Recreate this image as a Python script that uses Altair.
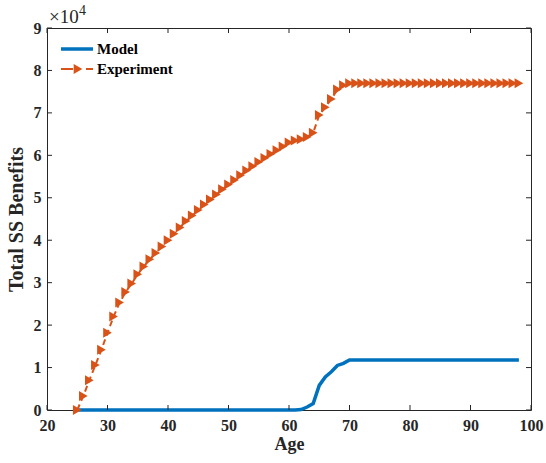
import altair as alt
import pandas as pd

# ---- data ----
ages = list(range(25, 99))
experiment = [
    0, 3300, 7000, 10600, 14200, 18200, 22000, 25300, 27800, 29800,   # 25-34
    32000, 33800, 35500, 37000, 38500, 40000, 41500, 43000, 44500, 45800,  # 35-44
    47100, 48400, 49600, 50800, 52000, 53100, 54200, 55300, 56400, 57400,  # 45-54
    58400, 59400, 60300, 61200, 62100, 63000, 63500, 63800, 64300, 65300,  # 55-64
    69500, 71300, 73300, 75500, 76500, 77000,                              # 65-70
    77000, 77000, 77000, 77000, 77000, 77000, 77000, 77000, 77000, 77000,  # 71-80
    77000, 77000, 77000, 77000, 77000, 77000, 77000, 77000, 77000, 77000,  # 81-90
    77000, 77000, 77000, 77000, 77000, 77000, 77000, 77000,                # 91-98
]
model = [
    0, 0, 0, 0, 0, 0, 0, 0, 0, 0,          # 25-34
    0, 0, 0, 0, 0, 0, 0, 0, 0, 0,          # 35-44
    0, 0, 0, 0, 0, 0, 0, 0, 0, 0,          # 45-54
    0, 0, 0, 0, 0, 0, 0, 100, 700, 1500,   # 55-64
    5800, 7800, 9000, 10500, 11000, 11800, # 65-70
    11800, 11800, 11800, 11800, 11800, 11800, 11800, 11800, 11800, 11800,  # 71-80
    11800, 11800, 11800, 11800, 11800, 11800, 11800, 11800, 11800, 11800,  # 81-90
    11800, 11800, 11800, 11800, 11800, 11800, 11800, 11800,                # 91-98
]
x_ticks = [20, 30, 40, 50, 60, 70, 80, 90, 100]
y_ticks = [0, 10000, 20000, 30000, 40000, 50000, 60000, 70000, 80000, 90000]
legend_labels = ["Model", "Experiment"]
exponent_text = ["×10", "4"]

BLUE = "#0072BD"
ORANGE = "#D95319"
FONT = "Liberation Serif"
W, H = 484, 382

df = pd.DataFrame({"Age": ages, "Experiment": experiment, "Model": model})
xt = pd.DataFrame({"t": x_ticks})
yt = pd.DataFrame({"t": y_ticks})

xscale = alt.Scale(domain=[20, 100], nice=False, zero=False)
yscale = alt.Scale(domain=[0, 90000], nice=False)

xenc = alt.X("Age:Q", scale=xscale, axis=alt.Axis(
    values=x_ticks, title="Age", ticks=False, domain=False, grid=False,
    labelFont=FONT, labelFontWeight="bold", labelFontSize=16, labelColor="#262626",
    labelPadding=7, titleFont=FONT, titleFontWeight="bold", titleFontSize=18,
    titleColor="#262626", titlePadding=2, labelFlush=False))

model_line = alt.Chart(df).mark_line(color=BLUE, strokeWidth=3.5).encode(
    x=xenc,
    y=alt.Y("Model:Q", scale=yscale, axis=alt.Axis(
        values=y_ticks, title="Total SS Benefits", ticks=False, domain=False, grid=False,
        labelExpr="datum.value / 10000", labelFont=FONT, labelFontWeight="bold",
        labelFontSize=16, labelColor="#262626", labelPadding=6,
        titleFont=FONT, titleFontWeight="bold", titleFontSize=20, titleColor="#262626",
        titlePadding=7)),
)

exp_line = alt.Chart(df).mark_line(color=ORANGE, strokeWidth=2, strokeDash=[6, 4]).encode(
    x=alt.X("Age:Q", scale=xscale),
    y=alt.Y("Experiment:Q", scale=yscale),
)
exp_pts = alt.Chart(df).mark_point(shape="triangle-right", filled=True, size=100,
                                   color=ORANGE, opacity=1).encode(
    x=alt.X("Age:Q", scale=xscale),
    y=alt.Y("Experiment:Q", scale=yscale),
)

tick_style = dict(color="#262626", strokeWidth=1)
bottom_ticks = alt.Chart(xt).mark_rule(**tick_style).encode(
    x=alt.X("t:Q", scale=xscale), y=alt.value(H), y2=alt.value(H - 5))
top_ticks = alt.Chart(xt).mark_rule(**tick_style).encode(
    x=alt.X("t:Q", scale=xscale), y=alt.value(0), y2=alt.value(5))
left_ticks = alt.Chart(yt).mark_rule(**tick_style).encode(
    y=alt.Y("t:Q", scale=yscale), x=alt.value(0), x2=alt.value(5))
right_ticks = alt.Chart(yt).mark_rule(**tick_style).encode(
    y=alt.Y("t:Q", scale=yscale), x=alt.value(W), x2=alt.value(W - 5))

# exponent label
exp_base = alt.Chart(pd.DataFrame({"t": [exponent_text[0]]})).mark_text(
    align="left", baseline="alphabetic", font=FONT, fontWeight="normal", fontSize=19,
    color="#262626").encode(text="t:N", x=alt.value(2), y=alt.value(-5))
exp_sup = alt.Chart(pd.DataFrame({"t": [exponent_text[1]]})).mark_text(
    align="left", baseline="alphabetic", font=FONT, fontSize=14,
    color="#262626").encode(text="t:N", x=alt.value(32), y=alt.value(-13))

# legend (drawn manually)
leg_model_line = alt.Chart(pd.DataFrame({"a": [0]})).mark_rule(color=BLUE, strokeWidth=3.5).encode(
    x=alt.value(14), x2=alt.value(46), y=alt.value(21))
leg_exp_a = alt.Chart(pd.DataFrame({"a": [0]})).mark_rule(color=ORANGE, strokeWidth=2).encode(
    x=alt.value(14), x2=alt.value(26), y=alt.value(41))
leg_exp_b = alt.Chart(pd.DataFrame({"a": [0]})).mark_rule(color=ORANGE, strokeWidth=2).encode(
    x=alt.value(39), x2=alt.value(46), y=alt.value(41))
leg_exp_pt = alt.Chart(pd.DataFrame({"a": [0]})).mark_point(
    shape="triangle-right", filled=True, size=100, color=ORANGE, opacity=1).encode(
    x=alt.value(31), y=alt.value(41))
leg_text = alt.Chart(pd.DataFrame({"label": legend_labels, "yy": [21, 41]})).mark_text(
    align="left", baseline="middle", font=FONT, fontWeight="bold", fontSize=15,
    color="#000000").encode(text="label:N", x=alt.value(50), y=alt.Y("yy:Q", scale=None))

chart = alt.layer(
    model_line, exp_line, exp_pts,
    bottom_ticks, top_ticks, left_ticks, right_ticks,
    exp_base, exp_sup,
    leg_model_line, leg_exp_a, leg_exp_b, leg_exp_pt, leg_text,
).properties(
    width=W, height=H,
    autosize=alt.AutoSizeParams(type="none"),
    padding={"left": 47, "top": 28, "right": 15, "bottom": 53},
    background="white",
).configure_view(stroke="#262626", strokeWidth=1)

chart.save("out.html", embed_options={"renderer": "svg", "actions": False})
